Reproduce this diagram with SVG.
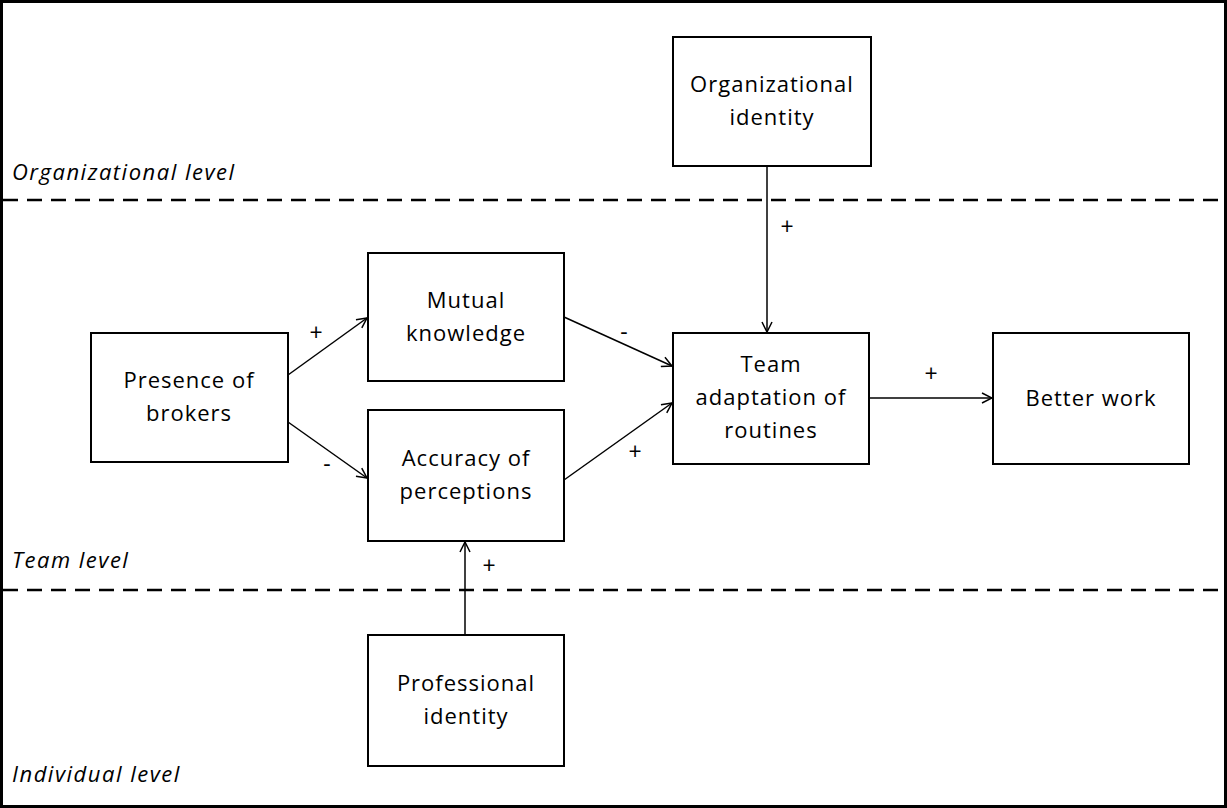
<svg xmlns="http://www.w3.org/2000/svg" width="1227" height="808" viewBox="0 0 1227 808">
<style>
.box{fill:#fff;stroke:#000;stroke-width:2}
.t{font-family:"Open Sans","DejaVu Sans",sans-serif;font-size:22px;fill:#000;text-anchor:middle;letter-spacing:1px}
.lvl{font-family:"Open Sans","DejaVu Sans",sans-serif;font-size:22px;font-style:italic;fill:#000;letter-spacing:1.5px}
.sg{font-family:"Open Sans","DejaVu Sans",sans-serif;font-size:23px;fill:#000;text-anchor:middle}
.dash{stroke:#000;stroke-width:2.5;stroke-dasharray:15 9;fill:none}
.c{stroke:#000;stroke-width:1.5;fill:none;marker-end:url(#a)}
</style>
<defs>
<marker id="a" viewBox="0 0 12 12" refX="11" refY="6" markerWidth="12" markerHeight="12" markerUnits="userSpaceOnUse" orient="auto">
<path d="M1,1 L11,6 L1,11" fill="none" stroke="#000" stroke-width="1.5"/>
</marker>
</defs>
<rect x="0" y="0" width="1227" height="808" fill="#fff"/>
<rect x="1.5" y="1.5" width="1224" height="805" fill="none" stroke="#000" stroke-width="3"/>
<g id="levels">
<line class="dash" x1="3" y1="200" x2="1225" y2="200"/>
<line class="dash" x1="3" y1="590" x2="1225" y2="590"/>
<text class="lvl" x="12" y="180">Organizational level</text>
<text class="lvl" x="12" y="568">Team level</text>
<text class="lvl" x="12" y="782">Individual level</text>
</g>
<g id="org-identity"><rect class="box" x="673" y="37" width="198" height="129"/><text class="t" x="772" y="92">Organizational</text><text class="t" x="772" y="125">identity</text></g>
<g id="mutual-knowledge"><rect class="box" x="368" y="253" width="196" height="128"/><text class="t" x="466" y="308">Mutual</text><text class="t" x="466" y="341">knowledge</text></g>
<g id="presence-brokers"><rect class="box" x="91" y="333" width="197" height="129"/><text class="t" x="189" y="388">Presence of</text><text class="t" x="189" y="421">brokers</text></g>
<g id="accuracy"><rect class="box" x="368" y="410" width="196" height="131"/><text class="t" x="466" y="466">Accuracy of</text><text class="t" x="466" y="499">perceptions</text></g>
<g id="team-adaptation"><rect class="box" x="673" y="333" width="196" height="131"/><text class="t" x="771" y="372">Team</text><text class="t" x="771" y="405">adaptation of</text><text class="t" x="771" y="438">routines</text></g>
<g id="better-work"><rect class="box" x="993" y="333" width="196" height="131"/><text class="t" x="1091" y="406">Better work</text></g>
<g id="professional-identity"><rect class="box" x="368" y="635" width="196" height="131"/><text class="t" x="466" y="691">Professional</text><text class="t" x="466" y="724">identity</text></g>
<g id="connectors">
<line class="c" x1="288" y1="375" x2="367" y2="318"/>
<line class="c" x1="288" y1="422" x2="367" y2="478"/>
<line class="c" x1="564" y1="317" x2="672" y2="366"/>
<line class="c" x1="564" y1="480" x2="672" y2="403"/>
<line class="c" x1="869" y1="398" x2="992" y2="398"/>
<line class="c" x1="767" y1="166" x2="767" y2="332"/>
<line class="c" x1="465" y1="635" x2="465" y2="542"/>
<text class="sg" x="316" y="341">+</text>
<text class="sg" x="327" y="472">-</text>
<text class="sg" x="624" y="340">-</text>
<text class="sg" x="635" y="460">+</text>
<text class="sg" x="931" y="382">+</text>
<text class="sg" x="787" y="235">+</text>
<text class="sg" x="489" y="574">+</text>
</g>
</svg>
